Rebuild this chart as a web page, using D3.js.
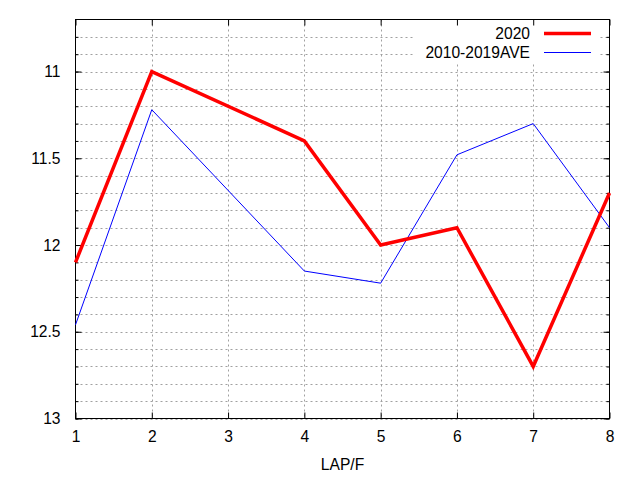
<!DOCTYPE html>
<html>
<head>
<meta charset="utf-8">
<script src="https://cdn.jsdelivr.net/npm/d3@7"></script>
<style>
  body { margin: 0; background: #fff; }
  text { font-family: "Liberation Sans", Arial, sans-serif; font-size: 15.6px; fill: #000; }
</style>
</head>
<body>
<script>
var laps = [1, 2, 4, 5, 6, 7, 8];
var lap2020 = [12.1, 11.0, 11.4, 12.0, 11.9, 12.7, 11.7];
var lapAve = [12.46, 11.22, 12.15, 12.22, 11.48, 11.3, 11.9];
var xTicks = [1, 2, 3, 4, 5, 6, 7, 8];
var yTicks = [11, 11.5, 12, 12.5, 13];
var yMinor = d3.range(108, 131).map(function (d) { return d / 10; });
var seriesNames = ["2020", "2010-2019AVE"];

var width = 640, height = 480,
    plotL = 75.5, plotR = 609.5, plotT = 19.5, plotB = 418.5;

var svg = d3.select("body").append("svg")
    .attr("width", width)
    .attr("height", height);

var x = d3.scaleLinear().domain([1, 8]).range([plotL, plotR]);
var y = d3.scaleLinear().domain([10.7, 13]).range([plotT, plotB]);

// grid
svg.append("g").selectAll("line").data(yMinor).enter().append("line")
    .attr("x1", plotL).attr("x2", plotR)
    .attr("y1", function (d) { return Math.round(y(d)) + 0.5; })
    .attr("y2", function (d) { return Math.round(y(d)) + 0.5; })
    .style("stroke", "#a0a0a0").style("stroke-dasharray", "2,3");
svg.append("g").selectAll("line").data(xTicks.slice(1, -1)).enter().append("line")
    .attr("y1", plotT).attr("y2", plotB)
    .attr("x1", function (d) { return Math.round(x(d)) + 0.5; })
    .attr("x2", function (d) { return Math.round(x(d)) + 0.5; })
    .style("stroke", "#a0a0a0").style("stroke-dasharray", "2,3");

// legend box hides grid
svg.append("rect")
    .attr("x", 413).attr("y", plotT + 0.5).attr("width", 185).attr("height", 42)
    .style("fill", "#fff");

// axes: ticks on all sides, mirrored inward
var axB = d3.axisBottom(x).tickValues(xTicks).tickSize(-6).tickPadding(12).tickFormat(d3.format("d"));
var axT = d3.axisTop(x).tickValues(xTicks).tickSize(-6).tickFormat("");
var axL = d3.axisLeft(y).tickValues(yTicks).tickSize(-6).tickPadding(15).tickFormat(d3.format("~g"));
var axR = d3.axisRight(y).tickValues(yTicks).tickSize(-6).tickFormat("");
var axLm = d3.axisLeft(y).tickValues(yMinor).tickSize(-3).tickFormat("");
var axRm = d3.axisRight(y).tickValues(yMinor).tickSize(-3).tickFormat("");

function styleAxis(g) {
  g.select(".domain").remove();
  g.selectAll("line").style("stroke", "#000");
  g.selectAll("text").style("font-size", "15.6px").style("font-family", "'Liberation Sans', Arial, sans-serif");
}
svg.append("g").attr("transform", "translate(0," + plotB + ")").call(axB).call(styleAxis);
svg.append("g").attr("transform", "translate(0," + plotT + ")").call(axT).call(styleAxis);
svg.append("g").attr("transform", "translate(" + plotL + ",0)").call(axL).call(styleAxis);
svg.append("g").attr("transform", "translate(" + plotR + ",0)").call(axR).call(styleAxis);
svg.append("g").attr("transform", "translate(" + plotL + ",0)").call(axLm).call(styleAxis);
svg.append("g").attr("transform", "translate(" + plotR + ",0)").call(axRm).call(styleAxis);

svg.append("rect")
    .attr("x", plotL).attr("y", plotT).attr("width", plotR - plotL).attr("height", plotB - plotT)
    .style("fill", "none").style("stroke", "#000");

// lines
var line = d3.line()
    .x(function (d) { return x(d[0]); })
    .y(function (d) { return y(d[1]); });

svg.append("path")
    .datum(laps.map(function (l, i) { return [l, lapAve[i]]; }))
    .attr("d", line)
    .style("fill", "none").style("stroke", "#0000ff").style("stroke-width", 1);

svg.append("path")
    .datum(laps.map(function (l, i) { return [l, lap2020[i]]; }))
    .attr("d", line)
    .style("fill", "none").style("stroke", "#ff0000").style("stroke-width", 3.5)
    .style("stroke-linejoin", "miter");

// legend
var legend = svg.append("g");
var colors = ["#ff0000", "#0000ff"], widths = [3.5, 1];
seriesNames.forEach(function (name, i) {
  var ly = 33.5 + i * 19;
  legend.append("text")
      .attr("x", 530).attr("y", ly).attr("dy", "0.35em")
      .attr("text-anchor", "end").text(name);
  legend.append("line")
      .attr("x1", 544).attr("x2", 591).attr("y1", ly).attr("y2", ly)
      .style("stroke", colors[i]).style("stroke-width", widths[i]);
});

svg.append("text")
    .attr("x", (plotL + plotR) / 2).attr("y", 465).attr("dy", "0.35em")
    .attr("text-anchor", "middle").text("LAP/F");
</script>
</body>
</html>
